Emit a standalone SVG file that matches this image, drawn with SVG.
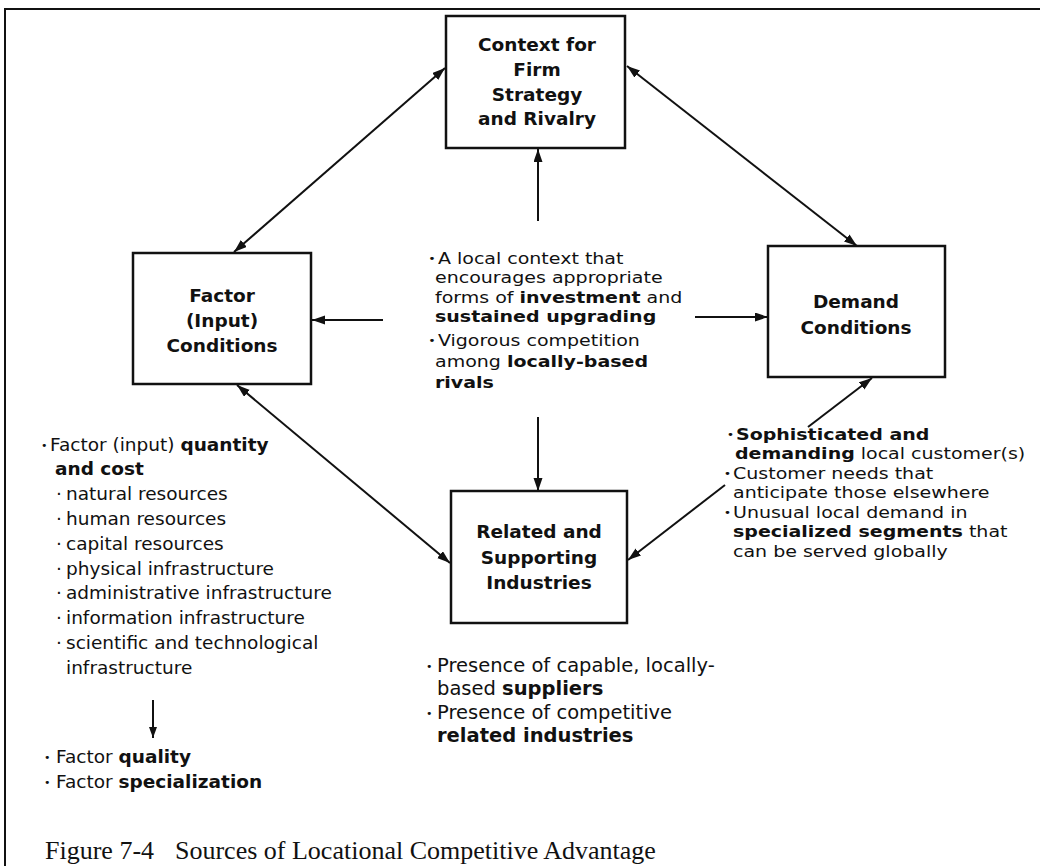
<svg xmlns="http://www.w3.org/2000/svg" width="1040" height="866" viewBox="0 0 1040 866">
<style>
.box{fill:#fff;stroke:#111;stroke-width:2.5}
.bt{font-family:"DejaVu Sans",sans-serif;font-weight:bold;font-size:18.5px;text-anchor:middle;fill:#111}
.tx{font-family:"DejaVu Sans",sans-serif;font-size:16.6px;fill:#111}
.lt{font-family:"DejaVu Sans",sans-serif;font-size:18.5px;fill:#111}
.bo{font-family:"DejaVu Sans",sans-serif;font-size:19.5px;fill:#111}
.bu{font-size:11px}
.b{font-weight:bold}
.ln{stroke:#111;stroke-width:2;fill:none}
.cap{font-family:"Liberation Serif",serif;font-size:26px;fill:#111}
</style>
<defs>
<marker id="ah" markerUnits="userSpaceOnUse" markerWidth="14" markerHeight="10" refX="13" refY="4.5" orient="auto-start-reverse"><path d="M0,0 L13,4.5 L0,9 z" fill="#111"/></marker>
<marker id="ahs" markerUnits="userSpaceOnUse" markerWidth="12" markerHeight="9" refX="11" refY="4" orient="auto-start-reverse"><path d="M0,0 L11,4 L0,8 z" fill="#111"/></marker>
</defs>
<rect x="0" y="0" width="1040" height="866" fill="#fff"/>
<path d="M5,866 V9 H1040" fill="none" stroke="#111" stroke-width="2"/>

<g id="connectors">
<line class="ln" x1="445" y1="68" x2="234" y2="252" marker-start="url(#ah)" marker-end="url(#ah)"/>
<line class="ln" x1="627" y1="66" x2="857" y2="246" marker-start="url(#ah)" marker-end="url(#ah)"/>
<line class="ln" x1="237" y1="385" x2="450" y2="563" marker-start="url(#ah)" marker-end="url(#ah)"/>
<line class="ln" x1="808" y1="427" x2="872" y2="378" marker-end="url(#ah)"/>
<line class="ln" x1="725" y1="485" x2="628" y2="560" marker-end="url(#ah)"/>
<line class="ln" x1="538" y1="221" x2="538" y2="149" marker-end="url(#ah)"/>
<line class="ln" x1="538" y1="417" x2="538" y2="491" marker-end="url(#ah)"/>
<line class="ln" x1="383" y1="320" x2="312" y2="320" marker-end="url(#ah)"/>
<line class="ln" x1="695" y1="317" x2="768" y2="317" marker-end="url(#ah)"/>
<line class="ln" x1="153" y1="700" x2="153" y2="738" stroke-width="1.6" marker-end="url(#ahs)"/>
</g>

<g id="node-strategy">
<rect class="box" x="446" y="16" width="179" height="132"/>
<text class="bt"><tspan x="537" y="51">Context for</tspan><tspan x="537" y="76">Firm</tspan><tspan x="537" y="101">Strategy</tspan><tspan x="537" y="125">and Rivalry</tspan></text>
</g>

<g id="node-factor">
<rect class="box" x="133" y="253" width="178" height="131"/>
<text class="bt"><tspan x="222" y="302">Factor</tspan><tspan x="222" y="327">(Input)</tspan><tspan x="222" y="352">Conditions</tspan></text>
</g>

<g id="node-demand">
<rect class="box" x="768" y="246" width="177" height="131"/>
<text class="bt"><tspan x="856" y="308">Demand</tspan><tspan x="856" y="334">Conditions</tspan></text>
</g>

<g id="node-related">
<rect class="box" x="451" y="491" width="176" height="132"/>
<text class="bt"><tspan x="539" y="538">Related and</tspan><tspan x="539" y="564">Supporting</tspan><tspan x="539" y="589">Industries</tspan></text>
</g>

<g id="text-strategy">
<text class="tx" transform="translate(435,0) scale(1.145,1)"><tspan class="bu" x="-6" y="262">•</tspan><tspan x="2.6" y="264">A local context that</tspan><tspan x="0" y="283.5">encourages appropriate</tspan><tspan x="0" y="303">forms of <tspan class="b">investment</tspan> and</tspan><tspan class="b" x="0" y="322.5">sustained upgrading</tspan><tspan class="bu" x="-6" y="344">•</tspan><tspan x="2.6" y="346">Vigorous competition</tspan><tspan x="0" y="367">among <tspan class="b">locally-based</tspan></tspan><tspan class="b" x="0" y="388">rivals</tspan></text>
</g>

<g id="text-factor">
<text class="lt"><tspan class="bu" x="41" y="449">•</tspan><tspan x="50" y="451">Factor (input) <tspan class="b">quantity</tspan></tspan><tspan class="b" x="55" y="475">and cost</tspan><tspan x="56" y="500">·</tspan><tspan x="66" y="500">natural resources</tspan><tspan x="56" y="525">·</tspan><tspan x="66" y="525">human resources</tspan><tspan x="56" y="550">·</tspan><tspan x="66" y="550">capital resources</tspan><tspan x="56" y="575">·</tspan><tspan x="66" y="575">physical infrastructure</tspan><tspan x="56" y="599">·</tspan><tspan x="66" y="599">administrative infrastructure</tspan><tspan x="56" y="624">·</tspan><tspan x="66" y="624">information infrastructure</tspan><tspan x="56" y="649">·</tspan><tspan x="66" y="649">scientific and technological</tspan><tspan x="66" y="674">infrastructure</tspan></text>
<text class="lt"><tspan class="bu" x="44" y="761">•</tspan><tspan x="56" y="763">Factor <tspan class="b">quality</tspan></tspan><tspan class="bu" x="44" y="786">•</tspan><tspan x="56" y="788">Factor <tspan class="b">specialization</tspan></tspan></text>
</g>

<g id="text-demand">
<text class="tx" transform="translate(733,0) scale(1.145,1)"><tspan class="bu" x="-5.5" y="438">•</tspan><tspan class="b" x="2.6" y="440">Sophisticated and</tspan><tspan x="1.7" y="459.5"><tspan class="b">demanding</tspan> local customer(s)</tspan><tspan class="bu" x="-8" y="477">•</tspan><tspan x="0" y="479">Customer needs that</tspan><tspan x="0" y="498.5">anticipate those elsewhere</tspan><tspan class="bu" x="-8" y="516">•</tspan><tspan x="0" y="518">Unusual local demand in</tspan><tspan x="0" y="537.5"><tspan class="b">specialized segments</tspan> that</tspan><tspan x="0" y="557">can be served globally</tspan></text>
</g>

<g id="text-related">
<text class="bo"><tspan class="bu" x="426" y="670">•</tspan><tspan x="437" y="672">Presence of capable, locally-</tspan><tspan x="437" y="695">based <tspan class="b">suppliers</tspan></tspan><tspan class="bu" x="426" y="717">•</tspan><tspan x="437" y="719">Presence of competitive</tspan><tspan class="b" x="437" y="742">related industries</tspan></text>
</g>

<g id="caption">
<text class="cap"><tspan x="45" y="859">Figure 7-4</tspan><tspan x="175" y="859">Sources of Locational Competitive Advantage</tspan></text>
</g>
</svg>
